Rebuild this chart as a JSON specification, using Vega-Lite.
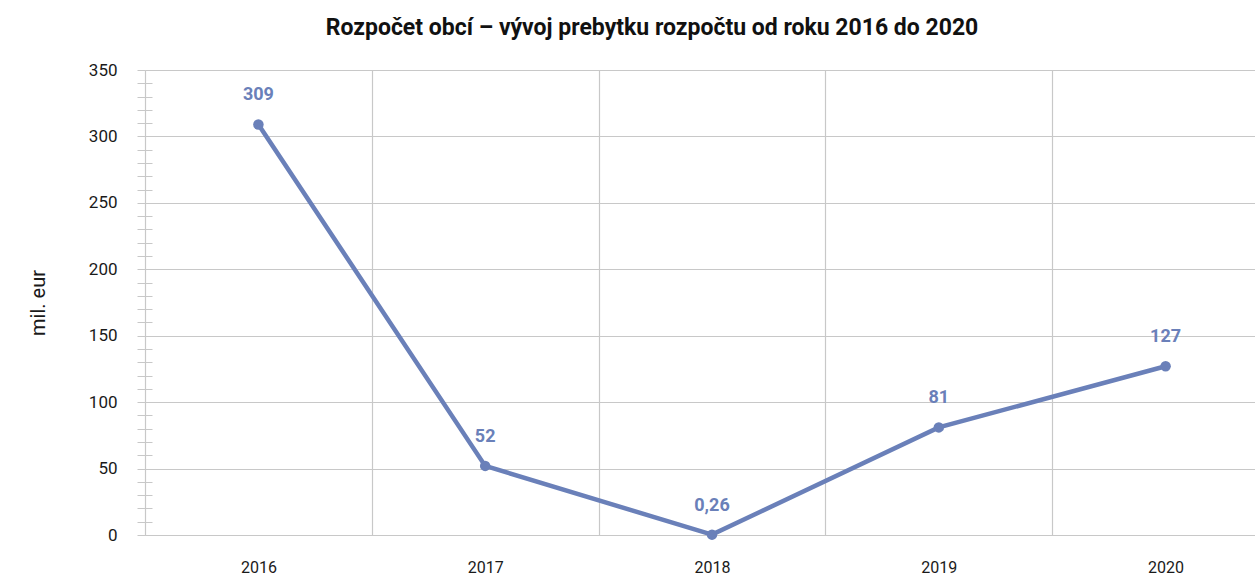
{
  "$schema": "https://vega.github.io/schema/vega-lite/v6.json",
  "autosize": {"type": "none"},
  "padding": {"left": 145, "top": 70, "right": 0, "bottom": 43},
  "width": 1110,
  "height": 465,
  "background": "white",
  "title": {
    "text": "Rozpočet obcí – vývoj prebytku rozpočtu od roku 2016 do 2020",
    "anchor": "middle",
    "dx": -48,
    "offset": 21,
    "fontSize": 23,
    "fontWeight": "bold",
    "font": "Roboto",
    "color": "#111111"
  },
  "config": {
    "view": {"stroke": null},
    "font": "Roboto",
    "axis": {"gridColor": "#c8c8c8", "gridWidth": 1.2, "domainColor": "#c8c8c8", "tickColor": "#c8c8c8", "labelFont": "Roboto", "titleFont": "Roboto", "labelColor": "#1a1a1a", "titleColor": "#1a1a1a"}
  },
  "data": {
    "values": [
      {"year": "2016", "value": 309, "label": "309"},
      {"year": "2017", "value": 52, "label": "52"},
      {"year": "2018", "value": 0.26, "label": "0,26"},
      {"year": "2019", "value": 81, "label": "81"},
      {"year": "2020", "value": 127, "label": "127"}
    ]
  },
  "encoding": {
    "x": {
      "field": "year",
      "type": "ordinal",
      "scale": {"range": [0, 1134], "paddingInner": 0, "paddingOuter": 0},
      "axis": {"title": null, "labelAngle": 0, "labelFontSize": 16, "labelPadding": 24, "ticks": false, "tickBand": "extent", "grid": true, "domain": true}
    },
    "y": {
      "field": "value",
      "type": "quantitative",
      "scale": {"domain": [0, 350], "nice": false}
    }
  },
  "layer": [
    {
      "mark": {"type": "line", "color": "#6a80b9", "strokeWidth": 4.5, "point": {"filled": true, "size": 110, "color": "#6a80b9"}},
      "encoding": {
        "y": {
          "field": "value",
          "type": "quantitative",
          "scale": {"domain": [0, 350], "nice": false},
          "axis": {"orient": "left", "title": "mil. eur", "titleFontSize": 20, "titleFontWeight": "normal", "titlePadding": 40, "values": [0, 50, 100, 150, 200, 250, 300, 350], "labelFontSize": 17, "labelPadding": 20, "tickSize": 8, "grid": true, "domain": true}
        }
      }
    },
    {
      "mark": {"type": "text", "color": "#6a80b9", "fontWeight": "bold", "fontSize": 18, "dy": -29, "baseline": "middle"},
      "encoding": {
        "text": {"field": "label"},
        "y": {
          "field": "value",
          "type": "quantitative",
          "scale": {"domain": [0, 350], "nice": false},
          "axis": {"orient": "left", "title": null, "labels": false, "grid": false, "domain": false, "offset": -7, "tickSize": 15, "values": [10, 20, 30, 40, 60, 70, 80, 90, 110, 120, 130, 140, 160, 170, 180, 190, 210, 220, 230, 240, 260, 270, 280, 290, 310, 320, 330, 340]}
        }
      }
    }
  ],
  "resolve": {"axis": {"y": "independent"}}
}
